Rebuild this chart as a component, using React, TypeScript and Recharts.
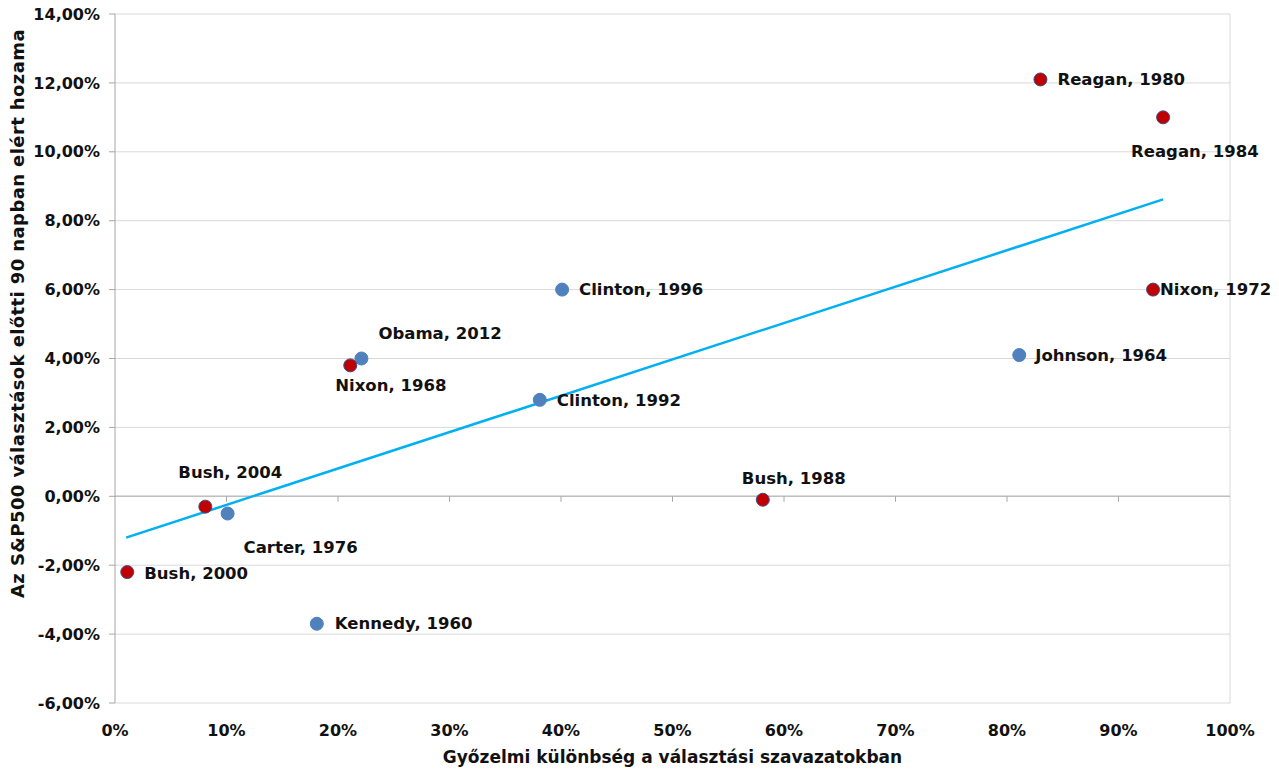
import { ScatterChart, Scatter, XAxis, YAxis, CartesianGrid, ReferenceLine } from "recharts"

// győzelmi különbség (%) és S&P500 hozam (%) – republikánus / demokrata győztesek
const republicanNames = ["Nixon, 1968", "Nixon, 1972", "Reagan, 1980", "Reagan, 1984", "Bush, 1988", "Bush, 2000", "Bush, 2004"]
const republicanMargin = [21.1, 93.1, 83, 94, 58.1, 1.1, 8.1]
const republicanReturn = [3.8, 6.0, 12.1, 11.0, -0.1, -2.2, -0.3]

const democratNames = ["Kennedy, 1960", "Johnson, 1964", "Carter, 1976", "Clinton, 1992", "Clinton, 1996", "Obama, 2012"]
const democratMargin = [18.1, 81.1, 10.1, 38.1, 40.1, 22.1]
const democratReturn = [-3.7, 4.1, -0.5, 2.8, 6.0, 4.0]

// trendvonal végpontjai
const trendMargin = [1, 94]
const trendReturn = [-1.2, 8.62]

const xTicks = [0, 10, 20, 30, 40, 50, 60, 70, 80, 90, 100]
const yTicks = [-6, -4, -2, 0, 2, 4, 6, 8, 10, 12, 14]

const xTitle = "Győzelmi különbség a választási szavazatokban"
const yTitle = "Az S&P500 választások előtti 90 napban elért hozama"

// címke eltolás a ponthoz képest (px)
const labelOffset: Record<string, [number, number]> = {
  "Kennedy, 1960": [18, 0],
  "Johnson, 1964": [16, 0],
  "Nixon, 1968": [-15, 20],
  "Nixon, 1972": [7, 0],
  "Carter, 1976": [16, 34],
  "Reagan, 1980": [17, 0],
  "Reagan, 1984": [-32, 34],
  "Bush, 1988": [-21, -21],
  "Clinton, 1992": [17, 1],
  "Clinton, 1996": [17, 0],
  "Bush, 2000": [17, 1],
  "Bush, 2004": [-27, -34],
  "Obama, 2012": [17, -25],
}

const FONT = "'DejaVu Sans', sans-serif"

const republicans = republicanNames.map((name, i) => ({ name, x: republicanMargin[i], y: republicanReturn[i] }))
const democrats = democratNames.map((name, i) => ({ name, x: democratMargin[i], y: democratReturn[i] }))

const pct2 = (v: number) => `${v.toFixed(2).replace(".", ",")}%`

function makeDot(fill: string, stroke: string) {
  return (props: any) => {
    const { cx, cy, payload } = props
    const [dx, dy] = labelOffset[payload.name] ?? [15, 0]
    return (
      <g>
        <circle cx={cx} cy={cy} r={6.5} fill={fill} stroke={stroke} strokeWidth={1} />
        <text
          x={cx + dx}
          y={cy + dy}
          dominantBaseline="central"
          fontFamily={FONT}
          fontSize={16.5}
          fontWeight={700}
          fill="#111"
        >
          {payload.name}
        </text>
      </g>
    )
  }
}

export default function App() {
  return (
    <div style={{ position: "absolute", left: 0, top: 0, background: "#fff" }}>
      <ScatterChart width={1279} height={769} margin={{ top: 14, right: 49, left: 0, bottom: 0 }}>
        <CartesianGrid vertical={false} stroke="#d9d9d9" horizontalValues={yTicks} />
        <XAxis
          type="number"
          dataKey="x"
          domain={[0, 100]}
          ticks={xTicks}
          height={66}
          axisLine={false}
          tickLine={false}
          tickSize={0}
          tickMargin={22}
          tickFormatter={(v) => `${v}%`}
          tick={{ fill: "#111", fontSize: 16, fontWeight: 700, fontFamily: FONT }}
          label={{
            value: xTitle,
            position: "insideBottom",
            offset: 6,
            fill: "#111",
            fontSize: 17,
            fontWeight: 700,
            fontFamily: FONT,
          }}
        />
        <YAxis
          type="number"
          dataKey="y"
          domain={[-6, 14]}
          ticks={yTicks}
          width={115}
          stroke="#a6a6a6"
          tickSize={6}
          tickMargin={9}
          tickFormatter={pct2}
          tick={{ fill: "#111", fontSize: 16, fontWeight: 700, fontFamily: FONT }}
          label={{
            content: (p: any) => {
              const vb = p.viewBox
              const cx = 17
              const cy = vb.y + vb.height / 2 - 45
              return (
                <text
                  x={cx}
                  y={cy}
                  transform={`rotate(-90 ${cx} ${cy})`}
                  textAnchor="middle"
                  dominantBaseline="central"
                  fontFamily={FONT}
                  fontSize={18}
                  letterSpacing={0.4}
                  fontWeight={700}
                  fill="#111"
                >
                  {yTitle}
                </text>
              )
            },
          }}
        />
        <ReferenceLine x={100} stroke="#d9d9d9" />
        <ReferenceLine y={0} stroke="#bfbfbf" strokeWidth={1.5} />
        {xTicks.slice(1, -1).map((t) => (
          <ReferenceLine
            key={t}
            segment={[
              { x: t, y: 0 },
              { x: t, y: -0.16 },
            ]}
            stroke="#a6a6a6"
          />
        ))}
        <ReferenceLine
          segment={[
            { x: trendMargin[0], y: trendReturn[0] },
            { x: trendMargin[1], y: trendReturn[1] },
          ]}
          stroke="#00B0F0"
          strokeWidth={2.5}
        />
        <Scatter data={democrats} shape={makeDot("#4F81BD", "#4F81BD")} isAnimationActive={false} />
        <Scatter data={republicans} shape={makeDot("#C00000", "#3c4f8a")} isAnimationActive={false} />
      </ScatterChart>
    </div>
  )
}
